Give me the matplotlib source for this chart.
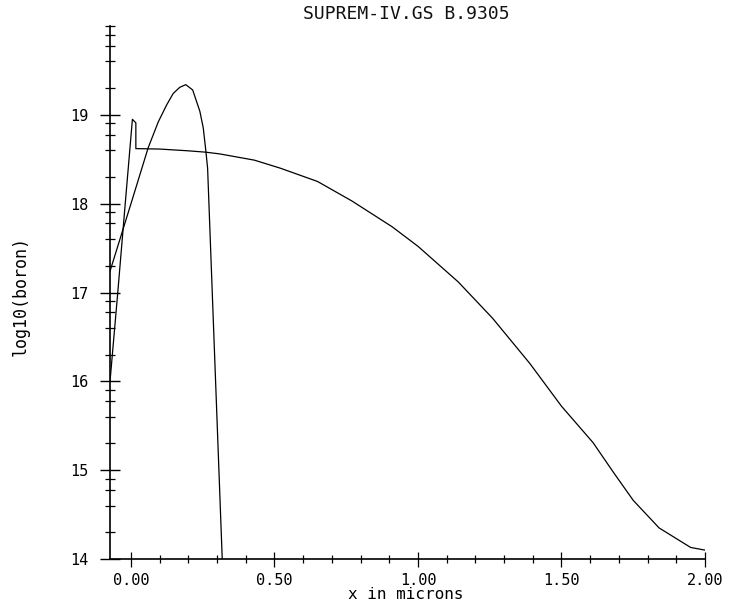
import numpy as np
import matplotlib
matplotlib.use("Agg")
import matplotlib.pyplot as plt
from matplotlib.ticker import FixedLocator, NullFormatter

plt.rcParams['font.family'] = ['DejaVu Sans Mono', 'DejaVu Sans']

# implanted profile (gaussian-like peak)
x_implant = [-0.073, 0.0, 0.06, 0.095, 0.124, 0.147, 0.17, 0.191, 0.215,
             0.24, 0.252, 0.261, 0.267, 0.318]
y_implant = [17.24, 18.0, 18.63, 18.92, 19.11, 19.24, 19.31, 19.34, 19.28,
             19.04, 18.85, 18.59, 18.40, 14.0]

# diffused profile
x_diff = [-0.073, -0.046, -0.020, 0.005, 0.017, 0.017, 0.10, 0.20, 0.26,
          0.31, 0.43, 0.52, 0.65, 0.77, 0.91, 1.0, 1.14, 1.26, 1.39, 1.50,
          1.61, 1.68, 1.75, 1.84, 1.95, 2.0]
y_diff = [16.0, 17.0, 18.0, 18.95, 18.91, 18.62, 18.615, 18.595, 18.58,
          18.56, 18.49, 18.40, 18.25, 18.03, 17.74, 17.52, 17.12, 16.71,
          16.20, 15.72, 15.31, 14.98, 14.66, 14.35, 14.13, 14.10]

xticks = [0.0, 0.5, 1.0, 1.5, 2.0]
xtick_labels = ["0.00", "0.50", "1.00", "1.50", "2.00"]
yticks = [14, 15, 16, 17, 18, 19]

fig = plt.figure(figsize=(7.32, 6.08), dpi=100)
ax = fig.add_axes([0.1503, 0.0806, 0.8128, 0.8766])

ax.plot(x_implant, y_implant, color="black", lw=0.9)
ax.plot(x_diff, y_diff, color="black", lw=0.9)

ax.set_xlim(-0.073, 2.0)
ax.set_ylim(14, 20)

for s in ["top", "right"]:
    ax.spines[s].set_visible(False)
for s in ["left", "bottom"]:
    ax.spines[s].set_linewidth(1.2)
    ax.spines[s].set_color("black")

ax.set_xticks(xticks)
ax.set_xticklabels(xtick_labels)
ax.xaxis.set_minor_locator(FixedLocator(np.arange(0.0, 2.001, 0.1)))
ax.set_yticks(yticks)
ax.set_yticklabels([str(v) for v in yticks])
minor_y = [d + np.log10(k) for d in range(14, 20) for k in (2, 4, 6, 8)] + [20]
ax.yaxis.set_minor_locator(FixedLocator(minor_y))
ax.yaxis.set_minor_formatter(NullFormatter())

ax.tick_params(axis="y", which="major", direction="inout", length=13.7, width=1.0,
               pad=9, labelsize=11)
ax.tick_params(axis="y", which="minor", direction="inout", length=6.5, width=0.9)
ax.tick_params(axis="x", which="major", direction="inout", length=10.8, width=0.9,
               pad=4.5, labelsize=11)
ax.tick_params(axis="x", which="minor", direction="inout", length=5.8, width=0.9)

ax.set_title("SUPREM-IV.GS B.9305", x=0.4986, y=1.023, va="center", pad=0,
             fontsize=13, color="#111111")
ax.set_xlabel("x in microns", fontsize=11.5, va="center")
ax.xaxis.set_label_coords(0.497, -0.0675)
ax.set_ylabel("log10(boron)", fontsize=12, va="center")
ax.yaxis.set_label_coords(-0.151, 0.493)

fig.savefig("out.png", dpi=100)
